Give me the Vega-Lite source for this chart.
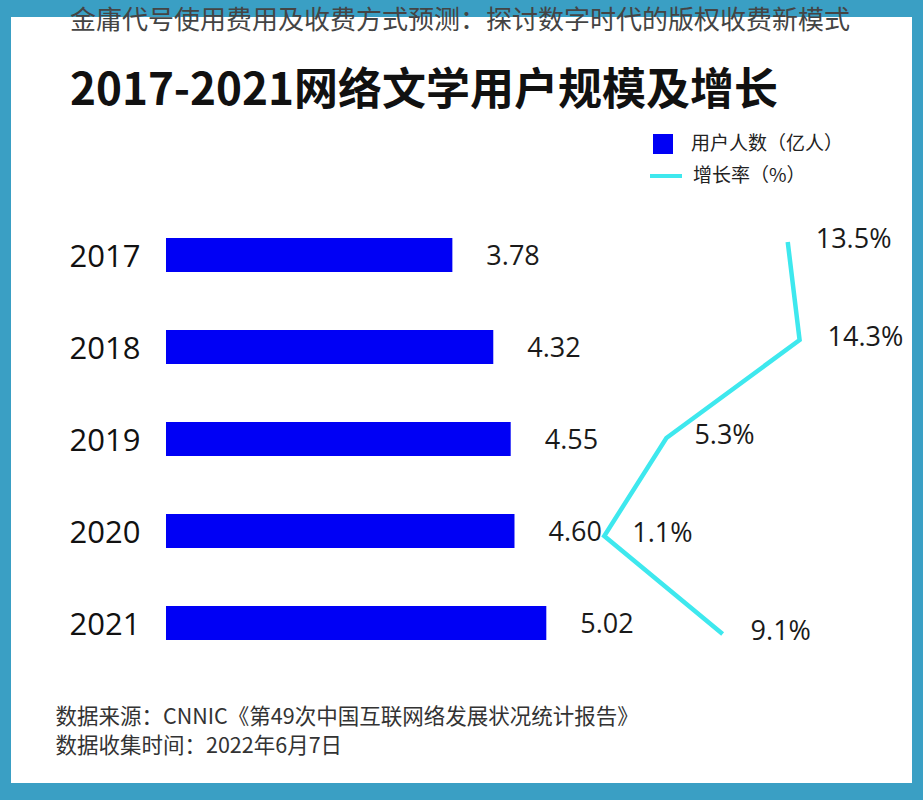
{
  "$schema": "https://vega.github.io/schema/vega-lite/v6.json",
  "width": 923,
  "height": 788,
  "autosize": "none",
  "padding": {"left": 0, "right": 0, "top": 6, "bottom": 6},
  "background": "#3a9fc4",
  "config": {
    "font": "Noto Sans CJK SC",
    "view": {"fill": "#ffffff", "stroke": "#3a9fc4", "strokeWidth": 22},
    "axis": {"grid": false}
  },
  "title": {
    "text": "金庸代号使用费用及收费方式预测：探讨数字时代的版权收费新模式",
    "subtitle": "2017-2021网络文学用户规模及增长",
    "anchor": "start",
    "frame": "group",
    "offset": -108,
    "dx": 70,
    "font": "Noto Sans CJK SC",
    "fontSize": 26,
    "fontWeight": "normal",
    "color": "#444444",
    "subtitleFont": "Noto Sans CJK SC",
    "subtitleFontSize": 44,
    "subtitleFontWeight": "bold",
    "subtitleColor": "#111111",
    "subtitlePadding": 36
  },
  "data": {
    "values": [
      {"year": "2017", "users": 3.78, "growth": 13.5},
      {"year": "2018", "users": 4.32, "growth": 14.3},
      {"year": "2019", "users": 4.55, "growth": 5.3},
      {"year": "2020", "users": 4.60, "growth": 1.1},
      {"year": "2021", "users": 5.02, "growth": 9.1}
    ]
  },
  "layer": [
    {
      "layer": [
        {
          "mark": {"type": "bar", "height": {"band": 0.37}},
          "encoding": {
            "y": {
              "field": "year", "type": "nominal",
              "scale": {"type": "band", "paddingInner": 0, "paddingOuter": 0, "range": [203, 663]},
              "axis": {
                "orient": "left", "offset": -166, "domain": false, "ticks": false, "title": null,
                "labelPadding": 26, "labelFont": "Open Sans", "labelFontSize": 31, "labelColor": "#111111", "labelOffset": 3
              }
            },
            "x": {
              "field": "users", "type": "quantitative",
              "scale": {"domain": [-2.191, 9.992], "nice": false},
              "axis": {
                "orient": "bottom", "labels": false, "ticks": false, "domain": false,
                "title": ["数据来源：CNNIC《第49次中国互联网络发展状况统计报告》", "数据收集时间：2022年6月7日"],
                "titleX": 55, "titleY": -88, "titleAlign": "left", "titleBaseline": "top",
                "titleFont": "Noto Sans CJK SC", "titleFontSize": 21.5, "titleFontWeight": "normal",
                "titleColor": "#333333", "titleLineHeight": 29
              }
            },
            "fill": {
              "datum": "用户人数（亿人）",
              "scale": {"range": ["#0000f5"]},
              "legend": {
                "orient": "none", "legendX": 652, "legendY": 127, "title": null, "padding": 0,
                "symbolType": "square", "symbolSize": 400, "labelOffset": 17,
                "labelFont": "Noto Sans CJK SC", "labelFontSize": 19, "labelColor": "#222222"
              }
            }
          }
        },
        {
          "mark": {"type": "text", "align": "left", "baseline": "middle", "dx": 34, "dy": 2, "font": "Open Sans", "fontSize": 27, "color": "#1a1a1a"},
          "encoding": {
            "y": {"field": "year", "type": "nominal"},
            "x": {"field": "users", "type": "quantitative"},
            "text": {"field": "users", "type": "quantitative", "format": ".2f"}
          }
        }
      ]
    },
    {
      "layer": [
        {
          "mark": {"type": "line", "strokeWidth": 4.5},
          "encoding": {
            "y": {
              "field": "year", "type": "nominal",
              "scale": {"type": "point", "padding": 0, "range": [236, 628]},
              "axis": null
            },
            "x": {
              "field": "growth", "type": "quantitative",
              "scale": {"domain": [-39.73, 22.64], "nice": false},
              "axis": null
            },
            "order": {"field": "year", "type": "ordinal"},
            "stroke": {
              "datum": "增长率（%）",
              "scale": {"range": ["#3ee8ee"]},
              "legend": {
                "orient": "none", "legendX": 648, "legendY": 152, "title": null, "padding": 0,
                "symbolType": "stroke", "symbolSize": 1024, "symbolStrokeWidth": 4, "labelOffset": 9,
                "labelFont": "Noto Sans CJK SC", "labelFontSize": 19, "labelColor": "#222222"
              }
            }
          }
        },
        {
          "mark": {"type": "text", "align": "left", "baseline": "middle", "dx": 28, "dy": -2, "font": "Open Sans", "fontSize": 27, "color": "#1a1a1a",
                   "text": {"expr": "format(datum.growth, '.1f') + '%'"}},
          "encoding": {
            "y": {"field": "year", "type": "nominal"},
            "x": {"field": "growth", "type": "quantitative"}
          }
        }
      ]
    }
  ],
  "resolve": {"scale": {"x": "independent", "y": "independent"}}
}
